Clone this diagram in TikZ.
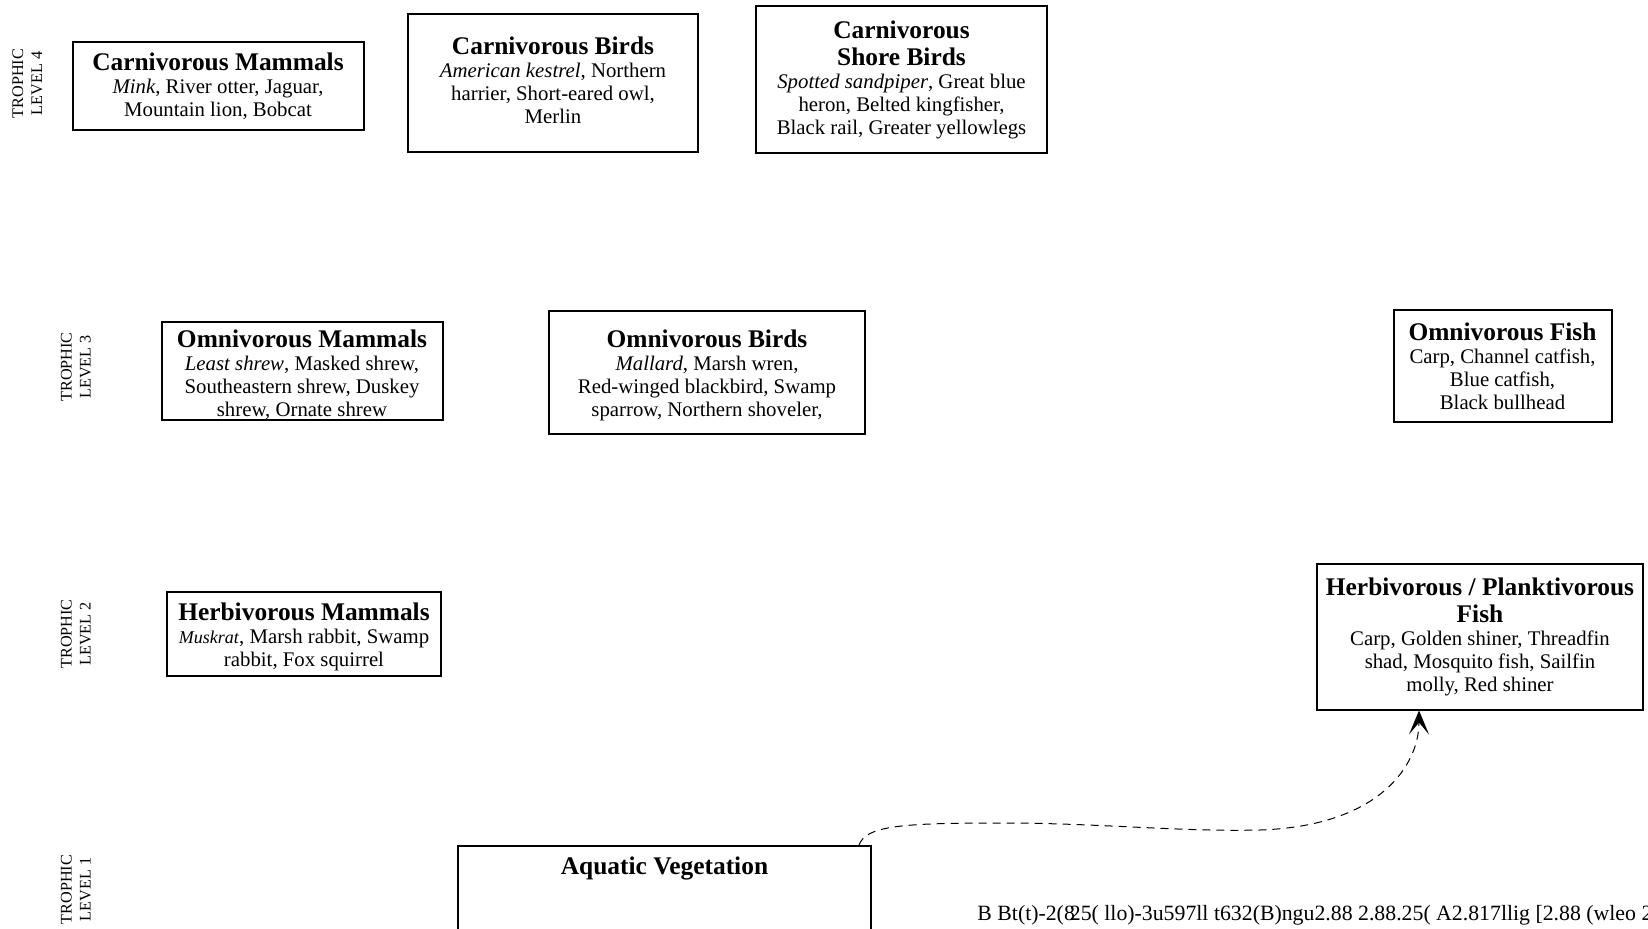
\documentclass[tikz,border=0pt]{standalone}
\usepackage{fontspec}
\setmainfont{Liberation Serif}
\usetikzlibrary{arrows.meta, calc}

\tikzset{
  taxon/.style={draw, line width=1pt, align=center, inner sep=1pt,
    font=\fontsize{10.4}{11.5}\selectfont},
  trophic/.style={rotate=90, align=center, inner sep=0pt,
    font=\fontsize{8.1}{9.5}\selectfont},
  feeds/.style={line width=0.5pt, dash pattern=on 4pt off 3pt,
    -{Stealth[length=12pt, width=10pt, inset=6pt]}}
}
\newcommand{\grp}[1]{{\fontsize{12.7}{13.7}\selectfont\bfseries #1}}

\begin{document}
\begin{tikzpicture}[x=0.5pt, y=-0.5pt]
                \useasboundingbox (0,0) rectangle (1648,929);

                % Trophic levels
                \node[trophic] (tl4) at (27.5,83.5) {TROPHIC\\LEVEL 4};
                \node[trophic] (tl3) at (76,367) {TROPHIC\\LEVEL 3};
                \node[trophic] (tl2) at (76,634) {TROPHIC\\LEVEL 2};
                \node[trophic] (tl1) at (76,889.5) {TROPHIC\\LEVEL 1};

                % Level 4: carnivores
                \node[taxon, minimum width=145.5pt, minimum height=44pt] (cmam) at (218,86)
                    {\grp{Carnivorous Mammals}\\\emph{Mink}, River otter, Jaguar,\\Mountain lion, Bobcat};
                \node[taxon, minimum width=145pt, inner ysep=0pt, text height=54.8pt, text depth=14.5pt] (cbird) at (553,83)
                    {\grp{Carnivorous Birds}\\\emph{American kestrel}, Northern\\harrier, Short-eared owl,\\Merlin};
                \node[taxon, minimum width=145.5pt, minimum height=73.5pt] (cshore) at (901.5,80)
                    {\grp{Carnivorous}\\[2.2pt]\grp{Shore Birds}\\\emph{Spotted sandpiper}, Great blue\\heron, Belted kingfisher,\\Black rail, Greater yellowlegs};

                % Level 3: omnivores
                \node[taxon, minimum width=140.5pt, inner ysep=0pt, text height=47.4pt, text depth=2pt] (omam) at (302,371)
                    {\grp{Omnivorous Mammals}\\\emph{Least shrew}, Masked shrew,\\Southeastern shrew, Duskey\\shrew, Ornate shrew};
                \node[taxon, minimum width=158pt, inner ysep=0pt, text height=52.7pt, text depth=8.8pt] (obird) at (707,372.5)
                    {\grp{Omnivorous Birds}\\\emph{Mallard}, Marsh wren,\\Red-winged blackbird, Swamp\\sparrow, Northern shoveler,};
                \node[taxon, minimum width=109pt, minimum height=56pt] (ofish) at (1502.5,366)
                    {\grp{Omnivorous Fish}\\Carp, Channel catfish,\\Blue catfish,\\Black bullhead};

                % Level 2: herbivores
                \node[taxon, minimum width=137pt, inner ysep=0pt, text height=37.4pt, text depth=4.6pt] (hmam) at (304,634)
                    {\grp{Herbivorous Mammals}\\{\fontsize{9}{11.5}\selectfont\emph{Muskrat}}, Marsh rabbit, Swamp\\rabbit, Fox squirrel};
                \node[taxon, minimum width=163pt, minimum height=72.5pt] (hfish) at (1480,637)
                    {\grp{Herbivorous / Planktivorous}\\[2.2pt]\grp{Fish}\\Carp, Golden shiner, Threadfin\\shad, Mosquito fish, Sailfin\\molly, Red shiner};

                % Level 1: producers
                \node[taxon, anchor=north, minimum width=206.5pt, inner ysep=5.5pt, text depth=70pt] (aveg) at (664.5,845)
                    {\grp{Aquatic Vegetation}};

                % Link
                \draw[feeds] ($(aveg.north east)+(-13,0)$)
                    .. controls (866,826) and (900,823) .. (1000,823)
                    .. controls (1100,823) and (1180,832) .. (1260,830)
                    .. controls (1380,826) and (1419,765) .. ($(hfish.south)+(-61,0)$);

                % Stray text
                \node[anchor=base west, inner sep=0pt, font=\fontsize{10.9}{12}\selectfont] (stray) at (977,920)
                    {B Bt(t)-2(8\kern-2.5pt 25( llo)-3u597ll t632(B)ngu2.88 2.88.25( A2.817llig [2.88 (wleo 2};
\end{tikzpicture}
\end{document}
